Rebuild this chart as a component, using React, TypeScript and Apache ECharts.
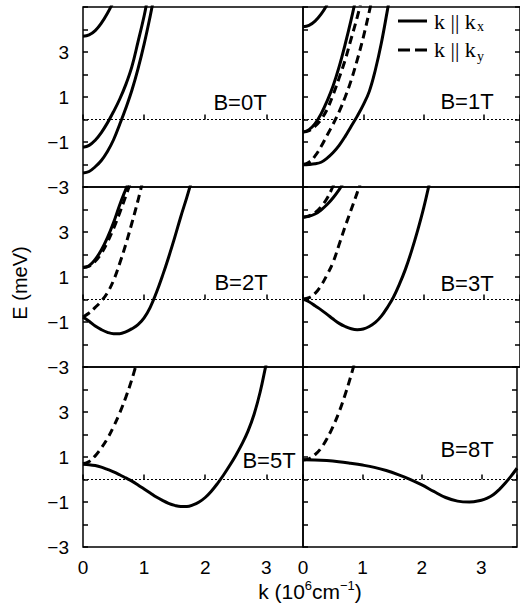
import React, { useEffect, useRef } from 'react';
import * as echarts from 'echarts';

// ---------- tick labels ----------
const kTicks = [0, 1, 2, 3];
const eTickLabels = [-3, -1, 1, 3];
const panelTitles = ['B=0T', 'B=1T', 'B=2T', 'B=3T', 'B=5T', 'B=8T'];

// ---------- data: [k (10^6 cm^-1), E (meV)] ----------
// B = 0 T
const b0Solid1 = [[0, 3.7], [0.1, 3.76], [0.2, 3.95], [0.3, 4.28], [0.4, 4.72], [0.5, 5.25]];
const b0Solid2 = [[0, -1.23], [0.1, -1.15], [0.2, -0.92], [0.3, -0.58], [0.4, -0.15], [0.5, 0.35], [0.6, 0.9], [0.7, 1.55], [0.8, 2.35], [0.9, 3.45], [1.0, 4.6], [1.05, 5.3]];
const b0Solid3 = [[0, -2.38], [0.1, -2.31], [0.2, -2.1], [0.3, -1.82], [0.4, -1.42], [0.5, -0.9], [0.6, -0.22], [0.7, 0.5], [0.8, 1.3], [0.9, 2.25], [1.0, 3.35], [1.1, 4.6], [1.15, 5.3]];
// B = 1 T
const b1Solid1 = [[0, 4.12], [0.1, 4.18], [0.2, 4.37], [0.3, 4.68], [0.4, 5.1]];
const b1Solid2 = [[0, -0.56], [0.1, -0.45], [0.2, -0.18], [0.3, 0.25], [0.4, 0.82], [0.5, 1.5], [0.6, 2.35], [0.7, 3.35], [0.8, 4.45], [0.87, 5.3]];
const b1Dash1 = [[0, -0.56], [0.1, -0.5], [0.2, -0.3], [0.3, 0.0], [0.4, 0.45], [0.5, 1.1], [0.6, 1.85], [0.7, 2.65], [0.8, 3.6], [0.9, 4.55], [0.97, 5.3]];
const b1Dash2 = [[0, -2.0], [0.1, -1.9], [0.2, -1.62], [0.3, -1.2], [0.4, -0.7], [0.5, -0.2], [0.6, 0.35], [0.7, 1.0], [0.8, 1.75], [0.9, 2.65], [1.0, 3.65], [1.1, 4.8], [1.14, 5.3]];
const b1Solid3 = [[0, -2.01], [0.1, -2.0], [0.2, -1.97], [0.3, -1.9], [0.4, -1.72], [0.5, -1.47], [0.6, -1.15], [0.7, -0.75], [0.8, -0.3], [0.9, 0.15], [1.0, 0.65], [1.1, 1.25], [1.2, 2.2], [1.3, 3.4], [1.4, 4.85], [1.43, 5.3]];
// B = 2 T
const b2Solid1 = [[0, 1.42], [0.1, 1.5], [0.2, 1.78], [0.3, 2.2], [0.4, 2.75], [0.5, 3.42], [0.6, 4.2], [0.7, 4.9], [0.76, 5.3]];
const b2Dash1 = [[0, 1.42], [0.1, 1.48], [0.2, 1.7], [0.3, 2.05], [0.4, 2.55], [0.5, 3.15], [0.6, 3.85], [0.7, 4.6], [0.79, 5.3]];
const b2Dash2 = [[0, -0.78], [0.1, -0.6], [0.2, -0.35], [0.3, -0.07], [0.4, 0.3], [0.5, 0.85], [0.6, 1.6], [0.7, 2.45], [0.8, 3.4], [0.9, 4.4], [0.98, 5.3]];
const b2Solid2 = [[0, -0.78], [0.1, -0.97], [0.2, -1.18], [0.3, -1.34], [0.4, -1.46], [0.5, -1.52], [0.6, -1.52], [0.7, -1.44], [0.8, -1.3], [0.9, -1.12], [1.0, -0.82], [1.1, -0.35], [1.2, 0.3], [1.3, 1.05], [1.4, 1.87], [1.5, 2.75], [1.6, 3.68], [1.7, 4.55], [1.78, 5.3]];
// B = 3 T
const b3Solid1 = [[0, 3.66], [0.1, 3.7], [0.2, 3.8], [0.3, 3.98], [0.4, 4.22], [0.5, 4.52], [0.6, 4.88], [0.66, 5.15]];
const b3Dash1 = [[0, 3.66], [0.1, 3.72], [0.2, 3.86], [0.3, 4.12], [0.4, 4.5], [0.5, 5.05], [0.53, 5.3]];
const b3Dash2 = [[0, 0.02], [0.1, 0.08], [0.2, 0.27], [0.3, 0.62], [0.4, 1.1], [0.5, 1.66], [0.6, 2.45], [0.7, 3.25], [0.8, 4.0], [0.9, 4.75], [0.97, 5.3]];
const b3Solid2 = [[0, 0.02], [0.1, -0.1], [0.2, -0.28], [0.3, -0.46], [0.4, -0.66], [0.5, -0.87], [0.6, -1.06], [0.7, -1.2], [0.8, -1.3], [0.9, -1.34], [1.0, -1.31], [1.1, -1.2], [1.2, -1.02], [1.3, -0.74], [1.4, -0.35], [1.5, 0.1], [1.6, 0.68], [1.7, 1.35], [1.8, 2.15], [1.9, 3.05], [2.0, 4.05], [2.1, 5.2]];
// B = 5 T
const b5Dash = [[0, 0.7], [0.1, 0.8], [0.2, 1.05], [0.3, 1.4], [0.4, 1.82], [0.5, 2.35], [0.6, 2.95], [0.7, 3.65], [0.8, 4.45], [0.89, 5.3]];
const b5Solid = [[0, 0.68], [0.1, 0.66], [0.2, 0.62], [0.3, 0.55], [0.4, 0.45], [0.5, 0.34], [0.6, 0.21], [0.7, 0.07], [0.8, -0.07], [0.9, -0.24], [1.0, -0.42], [1.1, -0.6], [1.2, -0.78], [1.3, -0.93], [1.4, -1.06], [1.5, -1.15], [1.6, -1.2], [1.7, -1.2], [1.8, -1.13], [1.9, -1.0], [2.0, -0.8], [2.1, -0.52], [2.2, -0.18], [2.3, 0.2], [2.4, 0.62], [2.5, 1.07], [2.6, 1.57], [2.7, 2.15], [2.8, 2.9], [2.9, 3.9], [3.0, 5.15], [3.02, 5.3]];
// B = 8 T
const b8Dash = [[0, 0.87], [0.1, 0.92], [0.2, 1.1], [0.3, 1.38], [0.4, 1.8], [0.5, 2.33], [0.6, 2.95], [0.7, 3.7], [0.8, 4.55], [0.88, 5.3]];
const b8Solid = [[0, 0.88], [0.2, 0.87], [0.4, 0.84], [0.6, 0.79], [0.8, 0.72], [1.0, 0.64], [1.2, 0.54], [1.4, 0.4], [1.6, 0.22], [1.8, 0.01], [2.0, -0.24], [2.2, -0.53], [2.4, -0.8], [2.6, -0.96], [2.8, -1.0], [3.0, -0.92], [3.1, -0.83], [3.2, -0.68], [3.3, -0.45], [3.4, -0.17], [3.5, 0.15], [3.6, 0.5]];

const panelCurves = [
  [{ d: b0Solid1, dash: false }, { d: b0Solid2, dash: false }, { d: b0Solid3, dash: false }],
  [{ d: b1Solid1, dash: false }, { d: b1Solid2, dash: false }, { d: b1Dash1, dash: true }, { d: b1Dash2, dash: true }, { d: b1Solid3, dash: false }],
  [{ d: b2Solid1, dash: false }, { d: b2Dash1, dash: true }, { d: b2Dash2, dash: true }, { d: b2Solid2, dash: false }],
  [{ d: b3Solid1, dash: false }, { d: b3Dash1, dash: true }, { d: b3Dash2, dash: true }, { d: b3Solid2, dash: false }],
  [{ d: b5Dash, dash: true }, { d: b5Solid, dash: false }],
  [{ d: b8Dash, dash: true }, { d: b8Solid, dash: false }],
];

// ---------- layout ----------
const FONT = "'Liberation Sans', Arial, sans-serif";
const SERIF = "'Liberation Serif', 'Times New Roman', serif";
const titlePos = [[240, 102], [467, 101], [241, 282], [467, 283], [269, 460], [467, 449]];

const fmtMinus = (v: number) => String(v).replace('-', '\u2212');

function buildOption() {
  const grid: any[] = [];
  const xAxis: any[] = [];
  const yAxis: any[] = [];
  const series: any[] = [];
  const graphic: any[] = [];

  for (let i = 0; i < 6; i++) {
    const row = Math.floor(i / 2);
    const col = i % 2;
    const left = col === 0 ? 83 : 303;
    const width = 220;
    const top = 7 + row * 180;
    grid.push({ left, top, width, height: 180, show: true, borderColor: '#000', borderWidth: 1.5, backgroundColor: 'transparent' });
    xAxis.push({
      type: 'value', gridIndex: i, min: 0, max: 3.6, interval: 1,
      axisLine: { show: false },
      axisTick: { show: true, inside: true, length: 5, lineStyle: { color: '#000', width: 1.5 } },
      axisLabel: {
        show: row === 2, margin: 11, color: '#000', fontSize: 19, fontFamily: FONT,
        formatter: (v: number) => (kTicks.includes(v) ? String(v) : ''),
      },
      splitLine: { show: false },
    });
    const yi = yAxis.length;
    yAxis.push({
      type: 'value', gridIndex: i, min: -3, max: 5, interval: 1, position: 'left',
      axisLine: { show: false },
      axisTick: { show: true, inside: true, length: 5, lineStyle: { color: '#000', width: 1.5 } },
      axisLabel: {
        show: col === 0, margin: 14, color: '#000', fontSize: 19, fontFamily: FONT,
        formatter: (v: number) => (eTickLabels.includes(v) ? fmtMinus(v) : ''),
      },
      splitLine: { show: false },
    });
    if (col === 1) {
      yAxis.push({
        type: 'value', gridIndex: i, min: -3, max: 5, interval: 1, position: 'right',
        axisLine: { show: false },
        axisTick: { show: true, inside: true, length: 5, lineStyle: { color: '#000', width: 1.5 } },
        axisLabel: { show: false },
        splitLine: { show: false },
      });
    }
    panelCurves[i].forEach((c, j) => {
      const s: any = {
        type: 'line', xAxisIndex: i, yAxisIndex: yi, data: c.d,
        showSymbol: false, symbol: 'none', smooth: 0.4, clip: true, silent: true,
        lineStyle: { color: '#000', width: 3, type: c.dash ? [8, 5] : 'solid' },
      };
      if (j === 0) {
        s.markLine = {
          silent: true, symbol: ['none', 'none'], label: { show: false },
          lineStyle: { color: '#000', width: 1, type: [2, 2] },
          data: [{ yAxis: 0 }],
        };
      }
      series.push(s);
    });
    graphic.push({
      type: 'text', x: titlePos[i][0], y: titlePos[i][1],
      style: { text: panelTitles[i], fill: '#000', font: `22px ${FONT}`, align: 'center', verticalAlign: 'middle' },
    });
  }

  // axis titles
  graphic.push({
    type: 'text', x: 20, y: 283, rotation: Math.PI / 2,
    style: { text: 'E (meV)', fill: '#000', font: `20px ${FONT}`, align: 'center', verticalAlign: 'middle' },
  });
  graphic.push({
    type: 'text', x: 310, y: 591,
    style: {
      text: '{m|k (10}{s|6}{m|cm}{s|\u22121}{m|)}',
      align: 'center', verticalAlign: 'middle',
      rich: {
        m: { fontSize: 21, fontFamily: FONT, fill: '#000', lineHeight: 24 },
        s: { fontSize: 13, fontFamily: FONT, fill: '#000', lineHeight: 13, verticalAlign: 'top' },
      },
    },
  });

  // legend
  graphic.push({ type: 'line', shape: { x1: 398, y1: 21, x2: 427, y2: 21 }, style: { stroke: '#000', lineWidth: 3 } });
  graphic.push({ type: 'line', shape: { x1: 398, y1: 50, x2: 427, y2: 50 }, style: { stroke: '#000', lineWidth: 3, lineDash: [12, 5] } });
  graphic.push({ type: 'text', x: 434, y: 21, style: { text: 'k || k', fill: '#000', font: `22px ${SERIF}`, align: 'left', verticalAlign: 'middle' } });
  graphic.push({ type: 'text', x: 477, y: 26, style: { text: 'x', fill: '#000', font: `14px ${SERIF}`, align: 'left', verticalAlign: 'middle' } });
  graphic.push({ type: 'text', x: 434, y: 49, style: { text: 'k || k', fill: '#000', font: `22px ${SERIF}`, align: 'left', verticalAlign: 'middle' } });
  graphic.push({ type: 'text', x: 477, y: 56, style: { text: 'y', fill: '#000', font: `14px ${SERIF}`, align: 'left', verticalAlign: 'middle' } });

  return {
    animation: false,
    backgroundColor: '#fff',
    grid, xAxis, yAxis, series, graphic,
  };
}

export default function App() {
  const ref = useRef<HTMLDivElement>(null);
  useEffect(() => {
    const chart = echarts.init(ref.current!, null, { renderer: 'svg' });
    chart.setOption(buildOption() as any);
    return () => chart.dispose();
  }, []);
  return (
    <div
      ref={ref}
      style={{ position: 'fixed', left: 0, top: 0, width: 520, height: 608, background: '#fff' }}
    />
  );
}
